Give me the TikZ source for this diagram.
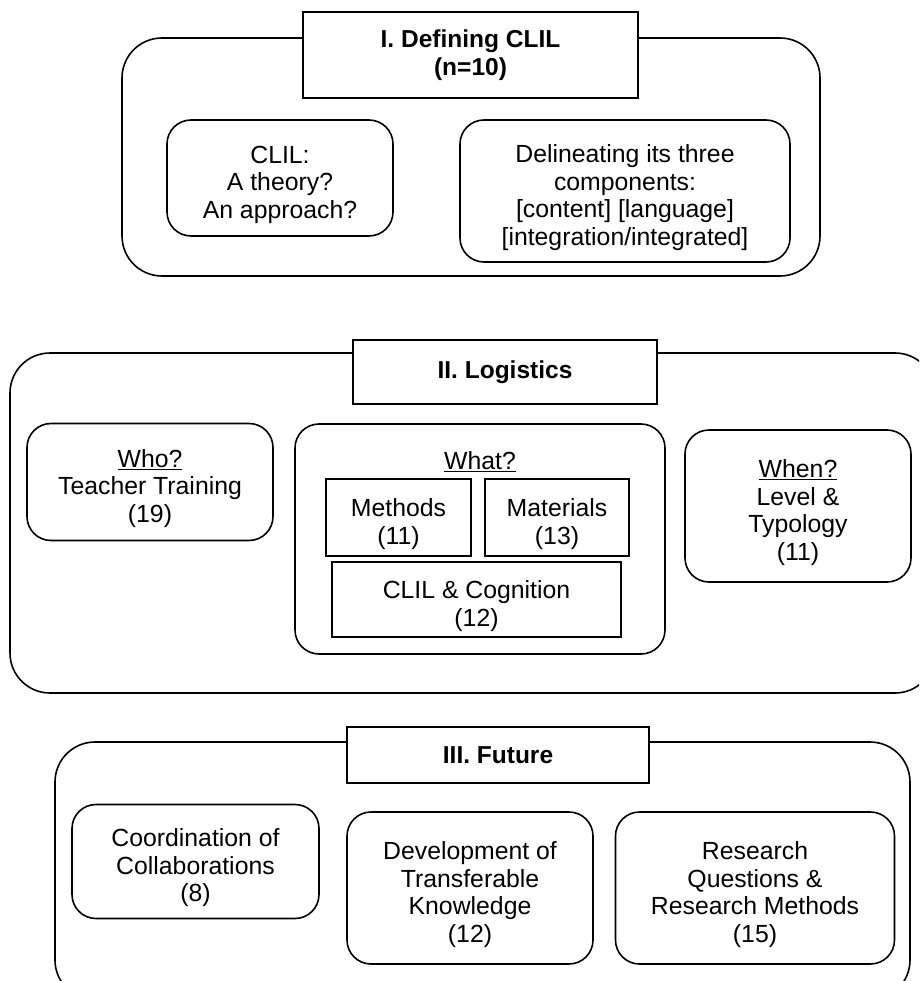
\documentclass[tikz,border=0pt]{standalone}
\usepackage{fontspec}
\setmainfont{Liberation Sans}
\usetikzlibrary{calc}

\newcommand{\topgap}{\rule{0pt}{31pt}}

\tikzset{
  txt/.style={font=\fontsize{24.8}{27.5}\selectfont},
  section/.style={draw, line width=1.6pt, rounded corners=40pt, inner sep=0pt},
  heading/.style={draw, line width=1.6pt, fill=white, align=center, inner sep=0pt,
    font=\fontsize{24.5}{27.5}\selectfont\bfseries},
  topic/.style={txt, draw, line width=1.6pt, rounded corners=24pt, align=center, inner sep=0pt},
  cell/.style={txt, draw, line width=1.6pt, align=center, inner sep=0pt}
}

\begin{document}
\begin{tikzpicture}[x=1pt, y=-1pt]
  \useasboundingbox (0,0) rectangle (919,981);
  \clip (0,0) rectangle (919,981);
  \node[section, minimum width=698pt, minimum height=238pt] (defsec) at (471,157) {};
  \node[heading, minimum width=335pt, minimum height=86pt] (deftitle) at (470.5,55) {I. Defining CLIL\\(n=10)};
  \node[topic, minimum width=226pt, minimum height=116pt] (theory) at (280,178) {\topgap CLIL:\\A theory?\\An approach?};
  \node[topic, minimum width=330pt, minimum height=142pt] (parts) at (625,191) {\topgap Delineating its three\\components:\\{[content] [language]}\\{[integration/integrated]}};
  \node[section, minimum width=925pt, minimum height=340pt] (logsec) at (472.5,523) {};
  \node[heading, minimum width=304pt, minimum height=64pt] (logtitle) at (505,372) {II. Logistics};
  \node[topic, minimum width=246pt, minimum height=117pt] (who) at (150,482) {\topgap\underline{Who?}\\Teacher Training\\(19)};
  \node[topic, minimum width=370pt, minimum height=230pt] (what) at (480,539) {};
  \node[txt] (whatlbl) at (480,462) {\underline{What?}};
  \node[cell, minimum width=145pt, minimum height=77pt] (methods) at (398.5,517.5) {\topgap Methods\\(11)};
  \node[cell, minimum width=144pt, minimum height=77pt] (materials) at (557,517.5) {\topgap Materials\\(13)};
  \node[cell, minimum width=289pt, minimum height=75pt] (cognition) at (476.5,599.5) {\topgap CLIL \& Cognition\\(12)};
  \node[topic, minimum width=226pt, minimum height=152pt] (when) at (798,506) {\topgap\underline{When?}\\Level \&\\Typology\\(11)};
  \node[section, minimum width=855pt, minimum height=258pt] (futsec) at (482.5,871) {};
  \node[heading, minimum width=302pt, minimum height=56pt] (futtitle) at (498,755) {III. Future};
  \node[topic, minimum width=247pt, minimum height=114pt] (coord) at (195.5,861.5) {\topgap Coordination of\\Collaborations\\(8)};
  \node[topic, minimum width=246pt, minimum height=152pt] (transfer) at (470,888) {\topgap Development of\\Transferable\\Knowledge\\(12)};
  \node[topic, minimum width=279pt, minimum height=152pt] (research) at (755,888) {\topgap Research\\Questions \&\\Research Methods\\(15)};
\end{tikzpicture}
\end{document}
